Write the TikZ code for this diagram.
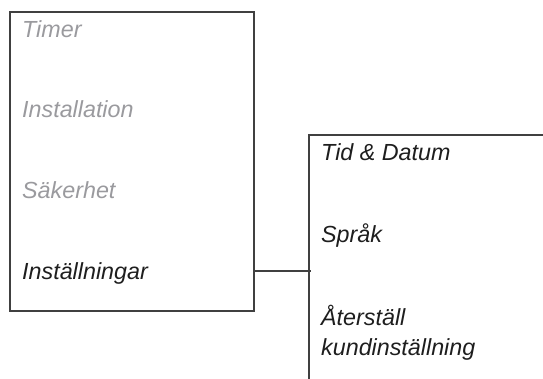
\documentclass[tikz,border=0pt]{standalone}
\usepackage{fontspec}
\setmainfont{Liberation Sans}
\definecolor{linegray}{HTML}{404040}
\definecolor{dimtext}{HTML}{9A9A9E}
\definecolor{maintext}{HTML}{1E1E1E}
\begin{document}
\begin{tikzpicture}[x=1pt,y=-1pt,
  frame/.style={draw=linegray,line width=1.2pt},
  item/.style={anchor=base west,inner sep=0pt,font=\fontsize{23.3}{30}\selectfont\itshape,text=maintext},
  dim/.style={item,text=dimtext}]
\useasboundingbox (0,0) rectangle (543,379);
% left menu box
\draw[frame] (10,12) rectangle (254,311);
\coordinate (lefteast) at (254,271);
\node[dim]  (timer) at (22,38)  {Timer};
\node[dim]  (inst)  at (22,118) {Installation};
\node[dim]  (sak)   at (22,199) {Säkerhet};
\node[item] (instl) at (22,279) {Inställningar};
% right submenu (open box)
\coordinate (rtop) at (309,135);
\coordinate (rtopend) at (543,135);
\coordinate (rbot) at (309,379);
\coordinate (rjoin) at (311,271);
\draw[frame] (rtopend) -- (rtop) -- (rbot);
\node[item] (tid) at (321,161) {Tid \& Datum};
\node[item] (sprak) at (321,243) {Språk};
\node[item,align=left,anchor=north west] (ater) at (321,305) {Återställ\\kundinställning};
% connector
\draw[frame] (lefteast) -- (rjoin);
\end{tikzpicture}
\end{document}
